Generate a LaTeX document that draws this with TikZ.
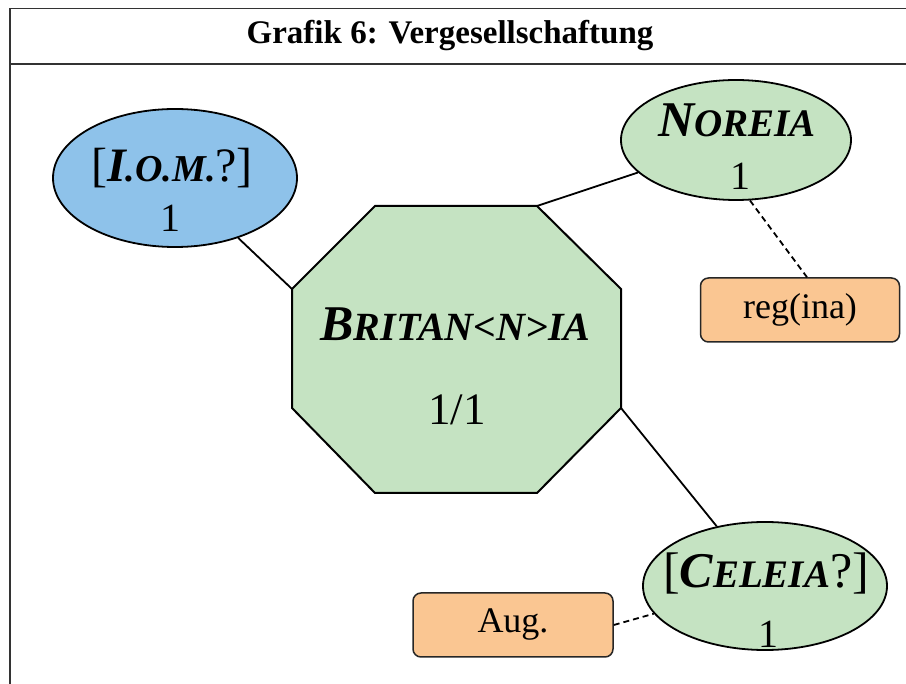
\documentclass[tikz,border=0pt]{standalone}
\usepackage{fontspec}
\setmainfont{Liberation Serif}
\usetikzlibrary{shapes.geometric}

\definecolor{iomblue}{RGB}{142,194,234}
\definecolor{sitegreen}{RGB}{197,227,194}
\definecolor{tagorange}{RGB}{250,198,146}

% first letter full size, the rest as small capitals
\newcommand{\scnm}[3][38]{\textbf{\textit{#2{\fontsize{#1}{#1}\selectfont #3}}}}

\begin{document}
\begin{tikzpicture}[x=1pt,y=-1pt,
  frame/.style={line width=1.8pt,draw=black!80},
  site/.style={ellipse,draw=black,line width=1.8pt,fill=sitegreen,inner sep=0},
  tag/.style={rectangle,rounded corners=8pt,draw=black!85,line width=1.5pt,fill=tagorange,
    minimum width=199,minimum height=64,inner sep=0,font=\fontsize{36}{40}\selectfont},
  sitename/.style={anchor=base,inner sep=0,font=\fontsize{48}{50}\selectfont},
  sitecount/.style={anchor=base,inner sep=0,font=\fontsize{40}{44}\selectfont},
  link/.style={line width=1.8pt},
  lead/.style={line width=1.8pt,dash pattern=on 6pt off 4pt}]
\useasboundingbox (0,0) rectangle (906,684);

% frame and title
\draw[frame] (10,684) -- (10,8.5) -- (906,8.5);
\draw[frame] (10,64) -- (906,64);
\node[anchor=base,inner sep=0,font=\bfseries\fontsize{33}{36}\selectfont] (title) at (450,44) {Grafik 6: Vergesellschaftung};

% central octagon
\coordinate (oct-1) at (375,206);
\coordinate (oct-2) at (537,206);
\coordinate (oct-3) at (621,289);
\coordinate (oct-4) at (621,408);
\coordinate (oct-5) at (537,493);
\coordinate (oct-6) at (375,493);
\coordinate (oct-7) at (292,408);
\coordinate (oct-8) at (292,289);
\draw[line width=2pt,fill=sitegreen] (oct-1) -- (oct-2) -- (oct-3) -- (oct-4) -- (oct-5) -- (oct-6) -- (oct-7) -- (oct-8) -- cycle;
\node[sitename,font=\fontsize{50}{54}\selectfont] (brit-name) at (455.5,341) {\scnm[40]{B}{RITAN<N>IA}};
\node[sitecount,font=\fontsize{45}{48}\selectfont] (brit-n) at (457,425) {1/1};

% sites
\node[site,fill=iomblue,minimum width=244,minimum height=138] (iom) at (175,178) {};
\node[sitename] (iom-name) at (172,182) {[\scnm{I}{.O.M.}?]};
\node[sitecount] (iom-n) at (170,232) {1};

\node[site,minimum width=230,minimum height=120] (noreia) at (736,140) {};
\node[sitename,font=\fontsize{50}{50}\selectfont] (noreia-name) at (737,137) {\scnm[39]{N}{OREIA}};
\node[sitecount] (noreia-n) at (740,190) {1};

\node[site,minimum width=244,minimum height=128] (celeia) at (765,586) {};
\node[sitename,font=\fontsize{50}{50}\selectfont] (celeia-name) at (766,588) {[\scnm[39]{C}{ELEIA}?]};
\node[sitecount] (celeia-n) at (768,648) {1};

% readings
\node[tag] (reg) at (800,310) {reg(ina)};
\node[tag,minimum width=200] (aug) at (513,625) {Aug.};

% connections
\draw[link] (iom) -- (oct-8);
\draw[link] (noreia) -- (oct-2);
\draw[link] (celeia) -- (oct-4);
\draw[lead] (noreia.-77) -- ([xshift=7pt]reg.north);
\draw[lead] (aug.east) -- (celeia.194);
\end{tikzpicture}
\end{document}
